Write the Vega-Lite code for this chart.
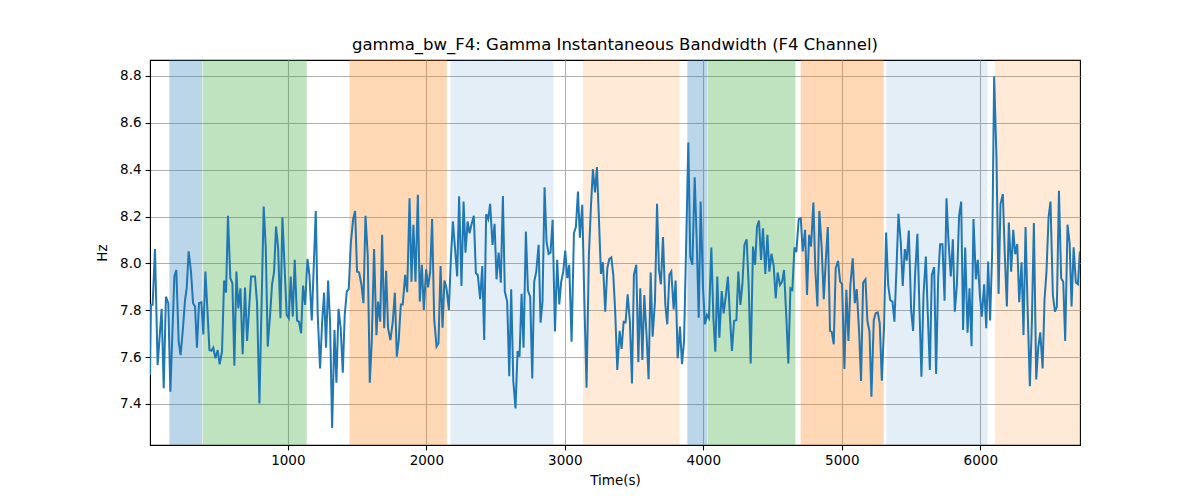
{
  "$schema": "https://vega.github.io/schema/vega-lite/v6.json",
  "width": 930,
  "height": 385,
  "autosize": {"type": "none"},
  "padding": {"left": 150, "top": 60, "right": 120, "bottom": 55},
  "background": "white",
  "title": {
    "text": "gamma_bw_F4: Gamma Instantaneous Bandwidth (F4 Channel)",
    "font": "DejaVu Sans",
    "fontSize": 16.5,
    "fontWeight": "normal",
    "color": "black",
    "offset": 7
  },
  "config": {
    "view": {"stroke": "black", "strokeWidth": 1.1},
    "axis": {
      "labelFont": "DejaVu Sans",
      "titleFont": "DejaVu Sans",
      "labelFontSize": 13.5,
      "titleFontSize": 13.5,
      "titleFontWeight": "normal",
      "labelColor": "black",
      "titleColor": "black",
      "domainColor": "black",
      "tickColor": "black",
      "tickSize": 4.9,
      "tickWidth": 1.1,
      "gridColor": "#b0b0b0",
      "gridWidth": 1.1,
      "labelPadding": 4
    }
  },
  "datasets": {
    "spans": [
      {"start": 145, "end": 381, "cat": "A"},
      {"start": 385, "end": 1137, "cat": "B"},
      {"start": 1445, "end": 2148, "cat": "C"},
      {"start": 2175, "end": 2919, "cat": "D"},
      {"start": 3131, "end": 3829, "cat": "E"},
      {"start": 3885, "end": 4029, "cat": "A"},
      {"start": 4032, "end": 4665, "cat": "B"},
      {"start": 4703, "end": 5303, "cat": "C"},
      {"start": 5322, "end": 6052, "cat": "D"},
      {"start": 6105, "end": 6720, "cat": "E"}
    ],
    "series": [
      {"t":5,"v":7.524},{"t":12,"v":7.823},{"t":24,"v":7.823},{"t":41,"v":8.061},{"t":60,"v":7.566},{"t":89,"v":7.806},{"t":104,"v":7.467},{"t":120,"v":7.858},{"t":137,"v":7.830},{"t":152,"v":7.452},
      {"t":181,"v":7.944},{"t":195,"v":7.972},{"t":212,"v":7.666},{"t":226,"v":7.609},{"t":243,"v":7.723},{"t":258,"v":7.844},{"t":270,"v":7.894},{"t":284,"v":8.051},{"t":301,"v":7.965},{"t":316,"v":7.830},
      {"t":330,"v":7.816},{"t":344,"v":7.640},{"t":359,"v":7.830},{"t":376,"v":7.834},{"t":390,"v":7.697},{"t":405,"v":7.965},{"t":419,"v":7.808},{"t":434,"v":7.630},{"t":448,"v":7.627},{"t":462,"v":7.640},
      {"t":477,"v":7.595},{"t":494,"v":7.630},{"t":508,"v":7.569},{"t":525,"v":7.623},{"t":540,"v":7.927},{"t":554,"v":7.875},{"t":568,"v":8.203},{"t":585,"v":7.937},{"t":600,"v":7.915},{"t":614,"v":7.563},
      {"t":629,"v":7.965},{"t":643,"v":7.808},{"t":658,"v":7.894},{"t":674,"v":7.612},{"t":691,"v":7.897},{"t":706,"v":7.669},{"t":735,"v":7.944},{"t":763,"v":7.944},{"t":778,"v":7.830},{"t":795,"v":7.402},
      {"t":826,"v":8.243},{"t":841,"v":8.065},{"t":855,"v":7.645},{"t":872,"v":7.780},{"t":886,"v":7.908},{"t":901,"v":7.965},{"t":915,"v":8.157},{"t":930,"v":8.065},{"t":947,"v":7.766},{"t":961,"v":8.197},
      {"t":975,"v":8.008},{"t":992,"v":7.780},{"t":1007,"v":7.766},{"t":1021,"v":7.944},{"t":1036,"v":7.773},{"t":1050,"v":8.015},{"t":1067,"v":7.756},{"t":1081,"v":7.751},{"t":1096,"v":7.702},{"t":1110,"v":7.905},
      {"t":1125,"v":7.823},{"t":1142,"v":8.019},{"t":1156,"v":7.951},{"t":1173,"v":7.756},{"t":1202,"v":8.224},{"t":1216,"v":7.780},{"t":1233,"v":7.552},{"t":1248,"v":7.751},{"t":1262,"v":7.875},{"t":1276,"v":7.640},
      {"t":1291,"v":7.927},{"t":1305,"v":7.751},{"t":1320,"v":7.298},{"t":1337,"v":7.716},{"t":1351,"v":7.491},{"t":1366,"v":7.806},{"t":1382,"v":7.723},{"t":1397,"v":7.533},{"t":1411,"v":7.780},{"t":1426,"v":7.880},
      {"t":1440,"v":7.890},{"t":1455,"v":8.086},{"t":1472,"v":8.190},{"t":1486,"v":8.224},{"t":1500,"v":7.965},{"t":1515,"v":7.961},{"t":1532,"v":7.908},{"t":1546,"v":7.830},{"t":1561,"v":8.203},{"t":1577,"v":8.036},
      {"t":1592,"v":7.491},{"t":1606,"v":7.666},{"t":1623,"v":8.061},{"t":1640,"v":7.694},{"t":1652,"v":7.837},{"t":1667,"v":7.751},{"t":1681,"v":8.122},{"t":1696,"v":7.723},{"t":1710,"v":7.968},{"t":1724,"v":7.723},
      {"t":1741,"v":7.673},{"t":1758,"v":7.751},{"t":1773,"v":7.875},{"t":1787,"v":7.602},{"t":1801,"v":7.673},{"t":1816,"v":7.825},{"t":1830,"v":7.825},{"t":1847,"v":7.951},{"t":1862,"v":7.877},{"t":1879,"v":8.278},
      {"t":1893,"v":7.922},{"t":1907,"v":8.165},{"t":1922,"v":7.922},{"t":1939,"v":8.293},{"t":1953,"v":7.837},{"t":1968,"v":7.994},{"t":1982,"v":7.801},{"t":1999,"v":7.975},{"t":2013,"v":7.898},{"t":2028,"v":7.965},
      {"t":2042,"v":8.189},{"t":2057,"v":7.761},{"t":2074,"v":7.645},{"t":2088,"v":7.659},{"t":2103,"v":7.989},{"t":2117,"v":7.726},{"t":2131,"v":7.927},{"t":2146,"v":7.894},{"t":2163,"v":7.801},{"t":2177,"v":8.015},
      {"t":2192,"v":8.179},{"t":2208,"v":8.061},{"t":2223,"v":7.944},{"t":2237,"v":8.286},{"t":2254,"v":7.904},{"t":2269,"v":8.264},{"t":2283,"v":8.046},{"t":2298,"v":8.179},{"t":2312,"v":8.129},{"t":2326,"v":8.165},
      {"t":2343,"v":8.203},{"t":2358,"v":7.958},{"t":2372,"v":7.951},{"t":2389,"v":7.847},{"t":2404,"v":7.989},{"t":2418,"v":7.673},{"t":2432,"v":8.210},{"t":2447,"v":8.189},{"t":2461,"v":8.254},{"t":2478,"v":8.079},
      {"t":2493,"v":8.169},{"t":2507,"v":7.932},{"t":2522,"v":8.046},{"t":2538,"v":7.918},{"t":2553,"v":8.288},{"t":2567,"v":7.880},{"t":2584,"v":7.837},{"t":2599,"v":7.519},{"t":2613,"v":7.890},{"t":2628,"v":7.499},
      {"t":2644,"v":7.381},{"t":2659,"v":7.626},{"t":2673,"v":7.602},{"t":2688,"v":7.870},{"t":2702,"v":7.640},{"t":2719,"v":8.136},{"t":2734,"v":7.884},{"t":2750,"v":7.858},{"t":2765,"v":7.509},{"t":2779,"v":7.922},
      {"t":2794,"v":7.965},{"t":2811,"v":8.079},{"t":2825,"v":7.747},{"t":2839,"v":7.837},{"t":2854,"v":8.325},{"t":2868,"v":8.093},{"t":2883,"v":8.041},{"t":2897,"v":8.046},{"t":2912,"v":8.186},{"t":2929,"v":7.709},
      {"t":2945,"v":8.015},{"t":2960,"v":7.825},{"t":2974,"v":7.922},{"t":2989,"v":7.965},{"t":3003,"v":8.055},{"t":3018,"v":7.937},{"t":3032,"v":7.994},{"t":3049,"v":7.666},{"t":3066,"v":8.129},{"t":3080,"v":8.155},
      {"t":3095,"v":8.307},{"t":3109,"v":8.110},{"t":3126,"v":8.250},{"t":3141,"v":7.844},{"t":3157,"v":7.469},{"t":3174,"v":8.036},{"t":3189,"v":8.246},{"t":3203,"v":8.402},{"t":3218,"v":8.303},{"t":3232,"v":8.411},
      {"t":3246,"v":8.197},{"t":3261,"v":7.955},{"t":3275,"v":8.005},{"t":3292,"v":7.794},{"t":3307,"v":7.979},{"t":3321,"v":8.019},{"t":3336,"v":8.026},{"t":3350,"v":7.951},{"t":3364,"v":7.794},{"t":3379,"v":7.545},
      {"t":3396,"v":7.712},{"t":3410,"v":7.635},{"t":3425,"v":7.751},{"t":3439,"v":7.749},{"t":3454,"v":7.868},{"t":3470,"v":7.751},{"t":3485,"v":7.488},{"t":3499,"v":7.951},{"t":3516,"v":7.994},{"t":3531,"v":7.578},
      {"t":3545,"v":7.894},{"t":3560,"v":7.588},{"t":3574,"v":7.865},{"t":3591,"v":7.687},{"t":3605,"v":7.506},{"t":3620,"v":7.961},{"t":3634,"v":7.687},{"t":3651,"v":7.837},{"t":3666,"v":8.254},{"t":3680,"v":7.972},
      {"t":3694,"v":7.911},{"t":3709,"v":8.112},{"t":3726,"v":7.823},{"t":3740,"v":7.740},{"t":3755,"v":7.951},{"t":3769,"v":7.965},{"t":3786,"v":7.804},{"t":3800,"v":7.927},{"t":3815,"v":7.595},{"t":3832,"v":7.730},
      {"t":3846,"v":7.570},{"t":3861,"v":7.666},{"t":3877,"v":8.100},{"t":3892,"v":8.516},{"t":3906,"v":8.029},{"t":3921,"v":7.994},{"t":3938,"v":8.368},{"t":3952,"v":8.108},{"t":3967,"v":7.768},{"t":3981,"v":8.264},
      {"t":3998,"v":7.894},{"t":4012,"v":7.740},{"t":4027,"v":7.780},{"t":4041,"v":7.766},{"t":4058,"v":8.068},{"t":4073,"v":7.766},{"t":4087,"v":7.623},{"t":4101,"v":7.944},{"t":4116,"v":7.683},{"t":4133,"v":7.882},
      {"t":4147,"v":7.787},{"t":4164,"v":7.868},{"t":4178,"v":7.944},{"t":4193,"v":7.766},{"t":4207,"v":7.626},{"t":4222,"v":7.754},{"t":4239,"v":7.758},{"t":4253,"v":7.965},{"t":4268,"v":7.823},{"t":4282,"v":7.908},
      {"t":4297,"v":8.079},{"t":4313,"v":8.103},{"t":4328,"v":7.901},{"t":4342,"v":7.573},{"t":4359,"v":8.072},{"t":4374,"v":7.994},{"t":4388,"v":8.157},{"t":4402,"v":8.183},{"t":4417,"v":8.015},{"t":4431,"v":8.150},
      {"t":4448,"v":7.955},{"t":4463,"v":8.122},{"t":4477,"v":7.965},{"t":4492,"v":8.041},{"t":4508,"v":7.991},{"t":4523,"v":7.851},{"t":4537,"v":7.961},{"t":4554,"v":7.908},{"t":4569,"v":7.922},{"t":4583,"v":7.972},
      {"t":4600,"v":7.766},{"t":4614,"v":7.573},{"t":4629,"v":7.894},{"t":4643,"v":7.887},{"t":4658,"v":8.068},{"t":4672,"v":8.048},{"t":4689,"v":8.189},{"t":4704,"v":8.193},{"t":4718,"v":8.051},{"t":4735,"v":8.143},
      {"t":4749,"v":7.865},{"t":4764,"v":8.122},{"t":4778,"v":8.072},{"t":4795,"v":8.260},{"t":4809,"v":7.972},{"t":4824,"v":7.816},{"t":4838,"v":8.224},{"t":4855,"v":8.065},{"t":4870,"v":7.847},{"t":4884,"v":8.008},
      {"t":4899,"v":8.155},{"t":4915,"v":7.712},{"t":4927,"v":7.709},{"t":4942,"v":7.655},{"t":4956,"v":7.979},{"t":4973,"v":8.011},{"t":4988,"v":7.922},{"t":5002,"v":7.911},{"t":5019,"v":7.549},{"t":5033,"v":7.887},
      {"t":5048,"v":7.669},{"t":5062,"v":7.908},{"t":5079,"v":8.022},{"t":5094,"v":7.830},{"t":5108,"v":7.890},{"t":5125,"v":7.709},{"t":5139,"v":7.498},{"t":5154,"v":7.918},{"t":5171,"v":7.932},{"t":5185,"v":7.754},
      {"t":5200,"v":7.709},{"t":5214,"v":7.431},{"t":5231,"v":7.758},{"t":5245,"v":7.787},{"t":5260,"v":7.791},{"t":5274,"v":7.744},{"t":5289,"v":7.499},{"t":5306,"v":7.744},{"t":5320,"v":8.132},{"t":5335,"v":7.908},
      {"t":5349,"v":7.844},{"t":5366,"v":7.837},{"t":5380,"v":7.751},{"t":5395,"v":7.979},{"t":5409,"v":8.212},{"t":5426,"v":8.089},{"t":5440,"v":7.904},{"t":5455,"v":8.061},{"t":5469,"v":8.012},{"t":5484,"v":8.140},
      {"t":5501,"v":7.797},{"t":5515,"v":7.712},{"t":5530,"v":7.961},{"t":5546,"v":8.126},{"t":5561,"v":7.804},{"t":5575,"v":7.516},{"t":5590,"v":7.865},{"t":5607,"v":8.029},{"t":5621,"v":7.783},{"t":5636,"v":7.545},
      {"t":5650,"v":7.951},{"t":5667,"v":7.984},{"t":5681,"v":7.528},{"t":5696,"v":7.939},{"t":5710,"v":8.082},{"t":5727,"v":8.082},{"t":5742,"v":7.841},{"t":5756,"v":8.278},{"t":5770,"v":8.100},{"t":5787,"v":7.944},
      {"t":5802,"v":8.103},{"t":5816,"v":7.794},{"t":5831,"v":7.908},{"t":5847,"v":8.203},{"t":5862,"v":8.264},{"t":5876,"v":7.716},{"t":5891,"v":8.068},{"t":5908,"v":7.704},{"t":5922,"v":7.894},{"t":5937,"v":7.647},
      {"t":5951,"v":8.189},{"t":5968,"v":7.932},{"t":5982,"v":8.015},{"t":5997,"v":7.865},{"t":6011,"v":7.773},{"t":6028,"v":7.911},{"t":6043,"v":7.723},{"t":6057,"v":8.008},{"t":6071,"v":7.756},{"t":6086,"v":8.051},
      {"t":6100,"v":8.798},{"t":6117,"v":8.449},{"t":6132,"v":7.870},{"t":6146,"v":8.253},{"t":6163,"v":8.296},{"t":6177,"v":8.036},{"t":6192,"v":7.816},{"t":6206,"v":8.174},{"t":6223,"v":7.965},{"t":6238,"v":8.143},
      {"t":6252,"v":8.039},{"t":6267,"v":8.083},{"t":6281,"v":7.834},{"t":6298,"v":8.005},{"t":6312,"v":7.694},{"t":6327,"v":8.155},{"t":6341,"v":7.823},{"t":6358,"v":7.476},{"t":6372,"v":7.737},{"t":6387,"v":8.172},
      {"t":6404,"v":7.505},{"t":6418,"v":7.637},{"t":6433,"v":7.706},{"t":6450,"v":7.552},{"t":6464,"v":7.847},{"t":6478,"v":7.965},{"t":6493,"v":8.197},{"t":6507,"v":8.264},{"t":6524,"v":7.865},{"t":6539,"v":7.794},
      {"t":6553,"v":7.816},{"t":6568,"v":8.310},{"t":6584,"v":7.937},{"t":6599,"v":7.922},{"t":6613,"v":7.669},{"t":6630,"v":8.165},{"t":6645,"v":8.086},{"t":6659,"v":7.816},{"t":6674,"v":8.069},{"t":6690,"v":7.918},
      {"t":6705,"v":7.911},{"t":6719,"v":8.051}
    ]
  },
  "layer": [
    {
      "data": {"name": "spans"},
      "mark": {"type": "rect", "strokeWidth": 0},
      "encoding": {
        "x": {
          "field": "start",
          "type": "quantitative",
          "scale": {"domain": [5, 6720], "nice": false, "zero": false},
          "axis": {
            "title": "Time(s)",
            "values": [1000, 2000, 3000, 4000, 5000, 6000],
            "format": "d",
            "grid": true,
            "titlePadding": 6
          }
        },
        "x2": {"field": "end"},
        "color": {
          "field": "cat",
          "type": "nominal",
          "legend": null,
          "scale": {
            "domain": ["A", "B", "C", "D", "E"],
            "range": [
              "rgba(31,119,180,0.3)",
              "rgba(44,160,44,0.3)",
              "rgba(255,127,14,0.3)",
              "rgba(31,119,180,0.12)",
              "rgba(255,127,14,0.16)"
            ]
          }
        }
      }
    },
    {
      "data": {"name": "series"},
      "mark": {"type": "line", "color": "#1f77b4", "strokeWidth": 2, "clip": true},
      "encoding": {
        "x": {"field": "t", "type": "quantitative"},
        "y": {
          "field": "v",
          "type": "quantitative",
          "scale": {"domain": [7.225, 8.868], "nice": false, "zero": false},
          "axis": {
            "title": "Hz",
            "values": [7.4, 7.6, 7.8, 8.0, 8.2, 8.4, 8.6, 8.8],
            "format": ".1f",
            "grid": true,
            "titlePadding": 10
          }
        }
      }
    }
  ]
}
